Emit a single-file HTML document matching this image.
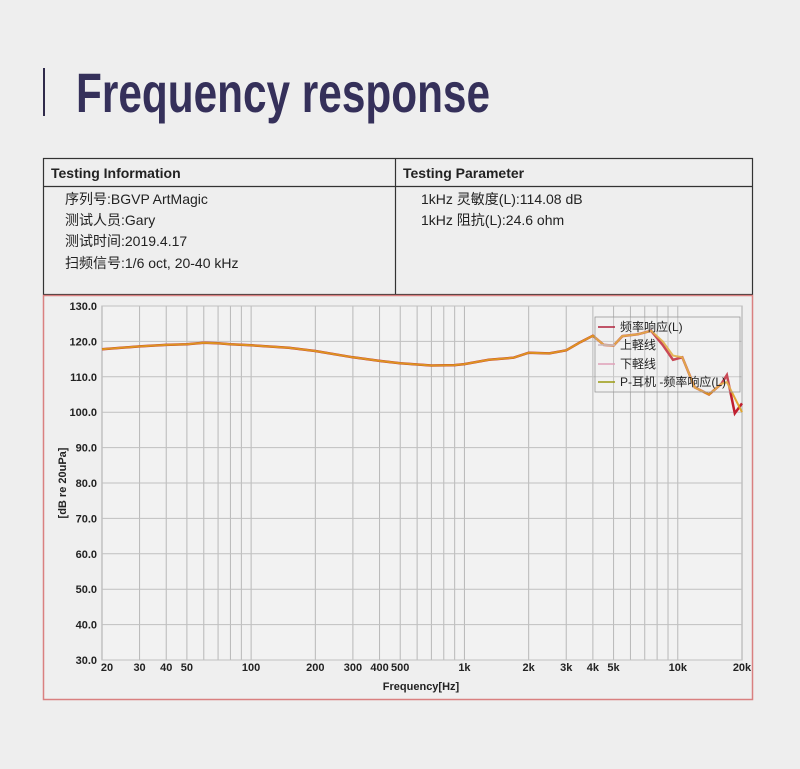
<!DOCTYPE html>
<html><head><meta charset="utf-8">
<style>
html,body{margin:0;padding:0;background:#eeeeee;width:800px;height:769px;overflow:hidden;font-family:"Liberation Sans","Noto Sans CJK SC",sans-serif}
</style></head><body>
<svg id="s" width="800" height="769" xmlns="http://www.w3.org/2000/svg" style="position:absolute;left:0;top:0">
<rect x="0" y="0" width="800" height="769" fill="#eeeeee"/>
<rect x="43" y="68" width="2" height="48" fill="#2f2a4a"/>
<text x="76" y="112" font-size="56" font-weight="bold" fill="#35305a" textLength="414" lengthAdjust="spacingAndGlyphs" font-family="Liberation Sans, sans-serif">Frequency response</text>
<!-- table -->
<rect x="43.5" y="158.5" width="709" height="136" fill="none" stroke="#333" stroke-width="1.2"/>
<line x1="43" y1="186.5" x2="753" y2="186.5" stroke="#333" stroke-width="1.2"/>
<line x1="395.5" y1="158" x2="395.5" y2="295" stroke="#333" stroke-width="1.2"/>
<g font-size="14" fill="#222">
<text x="51" y="178" font-weight="bold">Testing Information</text>
<text x="403" y="178" font-weight="bold">Testing Parameter</text>
<text x="65" y="204">序列号:BGVP ArtMagic</text>
<text x="65" y="225">测试人员:Gary</text>
<text x="65" y="246">测试时间:2019.4.17</text>
<text x="65" y="268">扫频信号:1/6 oct, 20-40 kHz</text>
<text x="421" y="204">1kHz 灵敏度(L):114.08 dB</text>
<text x="421" y="225">1kHz 阻抗(L):24.6 ohm</text>
</g>
<rect x="43.5" y="295.5" width="709" height="404" fill="#efefef" stroke="#d98080" stroke-width="1.5"/>
<g id="grid"></g>
<g id="labels" font-size="11" font-weight="bold" fill="#222"></g>
<g id="curves"></g>
<text x="421" y="690" font-size="11" font-weight="bold" text-anchor="middle" fill="#222">Frequency[Hz]</text>
<text transform="translate(66,483) rotate(-90)" font-size="11" font-weight="bold" text-anchor="middle" fill="#222">[dB re 20uPa]</text>
<g id="legend">
<rect x="595" y="317" width="145" height="75" fill="#efefef" fill-opacity="0.2" stroke="#999" stroke-width="0.8"/>
<g font-size="12" fill="#222">
<line x1="598" y1="327" x2="615" y2="327" stroke="#b0203a" stroke-width="1.5"/><text x="620" y="331">频率响应(L)</text>
<line x1="598" y1="345" x2="615" y2="345" stroke="#c8b8c0" stroke-width="1.5"/><text x="620" y="349">上軽线</text>
<line x1="598" y1="364" x2="615" y2="364" stroke="#e0a0b8" stroke-width="1.5"/><text x="620" y="368">下軽线</text>
<line x1="598" y1="382" x2="615" y2="382" stroke="#9a9a10" stroke-width="1.5"/><text x="620" y="386">P-耳机 -频率响应(L)</text>
</g></g>
</svg>
<script>
var X0=102,X1=742,Y0=306,Y1=660;
function fx(f){return X0+(Math.log10(f)-Math.log10(20))*(X1-X0)/3;}
function fy(d){return Y0+(130-d)*(Y1-Y0)/100;}
var ns="http://www.w3.org/2000/svg",g=document.getElementById('grid'),lb=document.getElementById('labels'),cv=document.getElementById('curves');
function el(p,t,a,txt){var e=document.createElementNS(ns,t);for(var k in a)e.setAttribute(k,a[k]);if(txt)e.textContent=txt;p.appendChild(e);return e;}
el(g,'rect',{x:X0,y:Y0,width:X1-X0,height:Y1-Y0,fill:'#f2f2f2',stroke:'#aaa','stroke-width':1});
var fs=[];[10,100,1000,10000].forEach(function(d){for(var i=1;i<10;i++){var f=d*i;if(f>20&&f<20000)fs.push(f);}});
fs.forEach(function(f){var x=fx(f);el(g,'line',{x1:x,y1:Y0,x2:x,y2:Y1,stroke:'#b8b8b8','stroke-width':1});});
for(var d=30;d<=130;d+=10){var y=fy(d);el(g,'line',{x1:X0,y1:y,x2:X1,y2:y,stroke:'#c0c0c0','stroke-width':1});el(lb,'text',{x:97,y:y+4,'text-anchor':'end'},d.toFixed(1));}
[[20,'20'],[30,'30'],[40,'40'],[50,'50'],[100,'100'],[200,'200'],[300,'300'],[400,'400'],[500,'500'],[1000,'1k'],[2000,'2k'],[3000,'3k'],[4000,'4k'],[5000,'5k'],[10000,'10k'],[20000,'20k']].forEach(function(a){el(lb,'text',{x:fx(a[0])+(a[0]==20?5:0),y:671,'text-anchor':'middle'},a[1]);});
var P=[[20,117.8],[30,118.6],[40,119],[50,119.2],[60,119.6],[70,119.5],[80,119.2],[100,118.9],[150,118.2],[200,117.3],[300,115.5],[400,114.5],[500,113.8],[700,113.2],[900,113.3],[1000,113.6],[1300,114.8],[1700,115.4],[2000,116.8],[2500,116.6],[3000,117.5],[3500,119.8],[4000,121.6],[4500,119],[5000,118.8],[5500,121.5],[6500,122],[7500,123],[8500,119],[9500,114.8],[10500,115.5],[12000,107],[14000,105],[16000,108],[17000,110.5],[18500,99.7],[20000,102.5]];
function path(arr){return arr.map(function(p,i){return (i?'L':'M')+fx(p[0]).toFixed(1)+','+fy(p[1]).toFixed(1);}).join('');}
var Q=P.map(function(p){var f=p[0],d=p[1];if(f==17000)d=108.5;if(f==18500)d=104;if(f==20000)d=100;if(f==8500)d=120;if(f==9500)d=116;return [f,d];});
el(cv,'path',{d:path(P),fill:'none',stroke:'#c02030','stroke-width':2.5});
el(cv,'path',{d:path(Q),fill:'none',stroke:'#e0a020','stroke-width':2,'stroke-opacity':0.9});
</script>
</body></html>
